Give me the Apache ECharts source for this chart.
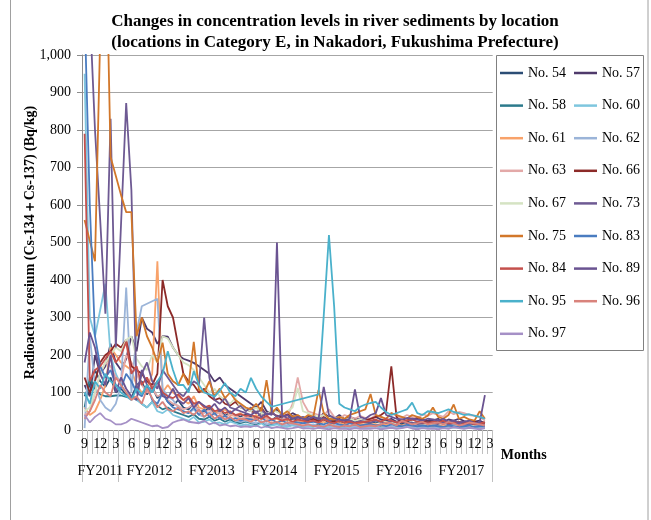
<!DOCTYPE html>
<html><head><meta charset="utf-8">
<script src="https://cdn.jsdelivr.net/npm/echarts@6/dist/echarts.min.js"></script>
<style>html,body{margin:0;padding:0;background:#fff}#c{width:651px;height:520px}</style>
</head><body><div id="c"></div>
<script>
// ---- tick labels ----
const fiscalYears = ['FY2011','FY2012','FY2013','FY2014','FY2015','FY2016','FY2017'];
const fyFirstMonth = [9,4,4,4,4,4,4];
const yTicks = [0,100,200,300,400,500,600,700,800,900,1000];

// ---- series values (Bq/kg), Sep 2011 ... Feb 2018 ----
const no54 = [90,120,160,130,115,140,100, 110,95,85,120,130,95,115,85,100,75,65,80, 60,55,72,50,48,62,42,52,38,46,40,36, 42,35,30,46,32,26,36,30,25,31,28,24, 26,30,22,28,20,25,22,18,26,20,23,20, 18,22,20,26,18,21,15,23,18,20,17,15, 15,18,21,15,18,14,17,15,12,16,12];
const no57 = [120,90,200,150,170,230,180, 160,190,250,210,300,270,260,230,250,249,220,200, 190,185,179,170,160,150,129,140,120,110,100,90, 80,70,60,75,50,45,55,40,35,45,38,30, 35,40,30,45,35,30,40,28,35,30,28,25, 30,35,28,25,30,22,28,25,30,35,28,24, 26,30,22,28,25,30,24,20,22,25,18];
const no58 = [60,140,110,95,90,90,92, 92,88,90,85,70,60,75,65,55,60,50,45, 40,35,42,30,28,35,25,30,22,28,20,18, 22,18,15,20,12,15,18,10,12,15,10,8, 12,10,15,8,10,12,6,10,8,12,10,8, 10,12,8,10,6,8,10,12,8,6,10,8, 8,10,6,8,10,8,6,8,10,6,8];
const no60 = [950,300,250,320,390,200,150, 120,100,90,80,70,60,75,50,45,55,40,35, 30,25,35,20,22,28,18,20,15,22,18,12, 15,12,10,18,8,12,15,10,8,12,10,6, 10,8,12,6,8,10,5,8,6,10,8,5, 8,10,6,8,5,6,8,10,6,5,8,6, 6,8,5,6,8,6,5,6,8,5,6];
const no61 = [60,40,50,80,120,220,200, 180,170,160,120,100,110,150,450,100,120,100,90, 80,70,90,60,55,65,50,45,55,40,38,45, 35,30,40,28,32,25,30,22,28,20,25,22, 20,25,18,22,15,18,20,15,18,14,16,15, 14,16,12,15,18,14,12,15,10,12,14,10, 12,10,14,12,10,8,12,10,8,10,8];
const no62 = [5,250,120,80,60,50,70, 120,380,100,260,330,null,null,350,110,90,80,60, 50,45,55,40,35,48,30,35,28,32,25,22, 25,20,18,24,15,18,20,14,12,16,14,10, 12,15,10,12,8,10,12,8,10,7,9,8, 8,10,6,8,10,7,6,9,8,6,7,6, 6,8,5,7,6,8,5,6,7,5,6];
const no63 = [40,50,100,150,180,170,140, 130,200,180,150,120,100,110,90,95,80,70,65, 55,60,70,50,45,55,40,48,35,42,38,30, 35,32,28,40,30,25,33,28,35,70,140,75, 50,45,40,38,55,35,30,40,35,30,38,32, 30,40,35,30,45,38,32,40,35,30,42,38, 45,40,35,50,42,48,45,40,38,35,25];
const no66 = [140,100,130,180,200,210,230, 220,240,170,160,150,130,120,150,400,330,300,225, 150,130,120,100,110,90,80,85,70,65,75,60, 55,50,45,60,40,45,38,35,42,30,35,32, 28,30,25,35,28,22,30,25,20,28,22,25, 30,35,40,50,170,35,20,25,28,30,25,22, 20,25,22,18,20,22,18,20,22,18,20];
const no67 = [50,60,100,150,180,200,220, 210,240,250,190,170,160,200,180,250,244,220,200, 180,173,160,140,120,100,110,90,80,70,85,60, 55,50,60,45,40,55,48,42,50,60,112,50, 45,38,35,40,32,30,35,28,30,25,28,24, 22,25,20,22,18,20,22,18,20,16,18,15, 14,16,18,14,12,15,13,12,14,12,10];
const no73 = [1150,1120,800,560,310,830,220, 546,872,640,100,150,180,130,110,160,140,120,100, 90,110,130,120,300,140,80,70,85,60,55,65, 50,60,45,55,40,48,35,42,30,38,28,35, 30,35,28,32,25,30,22,28,25,20,24,22, 20,25,22,18,24,20,22,18,20,16,18,20, 18,16,20,15,18,16,14,17,15,14,12];
const no75 = [560,505,450,1050,1400,728,678, 627,581,581,250,300,250,220,180,233,150,130,120, 150,120,235,107,100,130,90,111,85,100,80,70, 60,55,70,50,133,45,60,40,50,35,40,30, 40,35,107,45,30,28,35,30,40,45,50,55, 96,40,35,30,45,40,35,30,40,35,30,38, 60,35,30,40,68,30,35,28,25,50,30];
const no83 = [1120,600,250,170,140,160,120, 110,150,130,100,90,120,80,70,100,75,60,55, 50,45,60,40,55,35,45,30,38,28,32,25, 30,28,25,35,22,28,20,25,18,22,20,18, 20,22,18,15,20,18,15,12,18,15,12,14, 15,12,14,10,15,12,10,14,12,10,12,10, 12,10,8,12,10,8,10,12,8,10,10];
const no84 = [790,130,160,170,190,210,180, 200,235,150,170,120,140,110,130,100,90,85,95, 80,90,70,75,60,65,50,55,45,50,40,42, 38,40,35,30,38,28,32,25,30,22,28,25, 22,25,20,28,22,18,25,20,22,18,20,22, 25,28,22,30,25,20,22,25,28,22,20,18, 22,20,25,18,20,22,18,20,15,18,20];
const no89 = [180,260,220,150,120,200,100, 140,110,90,80,160,120,100,130,90,85,110,80, 70,85,60,75,65,55,70,50,60,45,55,50, 45,40,50,35,45,40,500,35,40,30,35,30, 28,35,30,115,40,32,28,25,30,108,35,30, 40,45,85,40,35,30,28,32,30,28,25,30, 28,25,30,22,25,20,22,25,18,20,93];
const no95 = [100,70,130,110,150,130,120, 100,90,80,110,95,120,100,130,150,210,160,120, 120,100,157,120,100,95,89,105,125,100,90,110, 100,139,110,89,75,62,null,null,null,null,null,null, null,null,95,305,520,330,70,60,55,50,62,68, 72,75,60,48,40,45,50,55,73,45,40,50, 48,45,50,55,48,45,40,42,38,35,30];
const no96 = [30,50,80,120,100,90,140, 120,100,80,90,70,110,85,60,75,55,50,60, 45,50,40,55,35,45,30,40,28,35,25,30, 28,22,30,20,25,18,22,15,20,18,15,12, 15,10,12,8,15,10,8,12,10,15,8,10, 12,10,15,20,18,12,25,20,15,18,22,15, 18,20,15,22,18,12,15,20,18,15,12];
const no97 = [40,20,35,45,30,25,15, 15,20,30,25,20,15,10,12,5,8,20,25, 28,22,20,18,25,15,20,12,15,10,12,8, 10,8,12,6,10,5,8,6,3,5,8,4, 5,3,6,4,2,5,3,4,2,5,3,4, 3,5,2,4,6,3,5,8,4,2,5,3, 4,2,5,3,8,5,3,6,4,2,5];

const seriesNames = ['No. 54','No. 57','No. 58','No. 60','No. 61','No. 62','No. 63','No. 66','No. 67','No. 73','No. 75','No. 83','No. 84','No. 89','No. 95','No. 96','No. 97'];
const seriesValues = [no54,no57,no58,no60,no61,no62,no63,no66,no67,no73,no75,no83,no84,no89,no95,no96,no97];
const seriesColors = ['#2C4D75','#4F3A6B','#2C7A8C','#7EC6DE','#F8A26A','#9BB4D8','#E3A9A8','#8C2A28','#D5E3C3','#6E5A93','#D2772A','#4A7CC0','#C4504C','#6A5391','#4AB1CB','#D9837C','#A590C6'];

// ---- build categories ----
const monthLabels = [], monthFY = [], fyStart = [], fyCount = [];
for (let f = 0; f < fiscalYears.length; f++) {
  let m = fyFirstMonth[f];
  fyStart.push(monthLabels.length);
  let n = 0;
  while (true) { monthLabels.push(String(m)); monthFY.push(f); n++; if (m === 3) break; m = (m === 12) ? 1 : m + 1; }
  fyCount.push(n);
}
const fyLabelIdx = fyStart.map((s, i) => s + Math.floor((fyCount[i] - 1) / 2));

const serif = '"Liberation Serif","Times New Roman",serif';
const legendCommon = {orient: 'vertical', top: 65, padding: 0, itemGap: 16.6, itemWidth: 23, itemHeight: 2.5, icon: 'rect',
  textStyle: {fontFamily: serif, fontSize: 14, color: '#000', lineHeight: 16}};
const chart = echarts.init(document.getElementById('c'), null, {renderer: 'canvas'});
chart.setOption({
  animation: false,
  backgroundColor: '#fff',
  title: {
    text: 'Changes in concentration levels in river sediments by location\n(locations in Category E, in Nakadori, Fukushima Prefecture)',
    left: 330, top: 6, textAlign: 'center',
    textStyle: {fontFamily: serif, fontWeight: 'bold', fontSize: 17, lineHeight: 21, color: '#000'}
  },
  graphic: [
    {type: 'rect', shape: {x: 10.5, y: -2, width: 637.5, height: 525}, style: {fill: 'none', stroke: '#a0a0a0', lineWidth: 1}, silent: true},
    {type: 'rect', shape: {x: 496.5, y: 55.5, width: 147, height: 295}, style: {fill: 'none', stroke: '#808080', lineWidth: 1}, silent: true}
  ],
  legend: [
    Object.assign({data: seriesNames.filter((n, i) => i % 2 === 0), left: 500}, legendCommon),
    Object.assign({data: seriesNames.filter((n, i) => i % 2 === 1), left: 574}, legendCommon)
  ],
  grid: {left: 82, top: 55, width: 410.7, height: 375, containLabel: false},
  xAxis: [
    {type: 'category', data: monthLabels, boundaryGap: true, position: 'bottom',
     axisLine: {show: true, lineStyle: {color: '#8c8c8c', width: 1}},
     axisTick: {show: true, interval: 0, length: 24, lineStyle: {color: '#c0c0c0'}},
     axisLabel: {interval: (i, v) => Number(v) % 3 === 0, margin: 7, fontFamily: serif, fontSize: 14, color: '#000'},
     name: 'Months', nameLocation: 'end', nameGap: 8,
     nameTextStyle: {fontFamily: serif, fontWeight: 'bold', fontSize: 14, color: '#000', verticalAlign: 'top', padding: [18,0,0,0]}
    },
    {type: 'category', data: monthLabels, boundaryGap: true, position: 'bottom', offset: 0,
     axisLine: {show: false},
     axisTick: {show: true, length: 52, interval: (i) => fyStart.indexOf(i) >= 0, lineStyle: {color: '#c0c0c0'}},
     axisLabel: {interval: (i) => fyLabelIdx.indexOf(i) >= 0, margin: 34, fontFamily: serif, fontSize: 14, color: '#000',
       formatter: (v, i) => { const f = monthFY[i]; return (fyCount[f] % 2 === 0 ? '{e|' : '{o|') + fiscalYears[f] + '}'; },
       rich: {e: {fontFamily: serif, fontSize: 14, color: '#000', padding: [0,0,0,5]}, o: {fontFamily: serif, fontSize: 14, color: '#000'}}
     },
     splitLine: {show: false}
    }
  ],
  yAxis: {
    type: 'value', min: yTicks[0], max: yTicks[yTicks.length - 1], interval: yTicks[1] - yTicks[0],
    axisLine: {show: true, lineStyle: {color: '#8c8c8c'}},
    axisTick: {show: true, length: 5, lineStyle: {color: '#8c8c8c'}},
    axisLabel: {margin: 11, fontFamily: serif, fontSize: 14, color: '#000', formatter: v => v.toLocaleString('en-US')},
    splitLine: {show: true, lineStyle: {color: '#a6a6a6', width: 1}},
    name: 'Radioactive cesium (Cs-134＋Cs-137) (Bq/kg)', nameLocation: 'middle', nameGap: 45, nameRotate: 90, nameMoveOverlap: false,
    nameTextStyle: {fontFamily: serif, fontWeight: 'bold', fontSize: 14, color: '#000'}
  },
  series: seriesNames.map((n, i) => ({
    name: n, type: 'line', xAxisIndex: 0, data: seriesValues[i], symbol: 'none', connectNulls: true, clip: true,
    color: seriesColors[i], lineStyle: {color: seriesColors[i], width: 1.8}
  }))
});
</script></body></html>
